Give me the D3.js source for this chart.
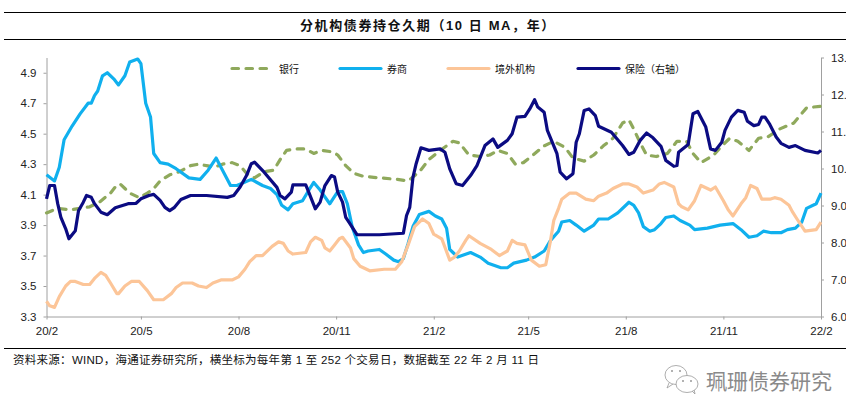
<!DOCTYPE html>
<html>
<head>
<meta charset="utf-8">
<script src="https://cdn.jsdelivr.net/npm/d3@7"></script>
<style>
  html, body { margin: 0; padding: 0; background: #fff; }
  svg { display: block; }
  text { font-family: "Liberation Sans", "Noto Sans CJK SC", sans-serif; fill: #111; }
</style>
</head>
<body>
<svg></svg>
<script>
// Each point is [trading day since 20/2, duration in years]
var bank = [[0,3.98],[7,4.01],[15,4.0],[21,4.01],[27,4.02],[33,4.05],[40,4.11],[43,4.15],[46,4.17],[49,4.14],[52,4.11],[58,4.08],[63,4.11],[67,4.14],[71,4.19],[77,4.23],[83,4.25],[90,4.29],[95,4.30],[100,4.29],[105,4.28],[110,4.30],[116,4.31],[121,4.29],[125,4.24],[130,4.21],[136,4.25],[142,4.26],[146,4.33],[150,4.39],[155,4.40],[162,4.40],[167,4.37],[172,4.39],[179,4.38],[182,4.36],[187,4.29],[192,4.24],[198,4.22],[208,4.21],[219,4.20],[226,4.19],[233,4.25],[239,4.33],[246,4.39],[254,4.45],[258,4.44],[264,4.36],[271,4.35],[277,4.36],[282,4.39],[288,4.37],[293,4.30],[298,4.31],[304,4.36],[311,4.42],[317,4.45],[324,4.41],[329,4.34],[336,4.32],[342,4.36],[348,4.42],[354,4.47],[360,4.57],[364,4.59],[367,4.53],[371,4.44],[375,4.36],[381,4.35],[388,4.37],[394,4.45],[400,4.45],[404,4.37],[409,4.31],[417,4.36],[422,4.42],[427,4.47],[432,4.45],[439,4.39],[445,4.47],[451,4.48],[458,4.53],[467,4.57],[475,4.67],[484,4.68]];

var broker = [[0,4.23],[5,4.19],[8,4.28],[11,4.46],[16,4.55],[21,4.63],[26,4.70],[28,4.70],[30,4.75],[32,4.78],[35,4.88],[38,4.90],[42,4.86],[45,4.82],[49,4.88],[52,4.97],[57,4.99],[59,4.96],[62,4.70],[65,4.61],[67,4.37],[71,4.31],[76,4.30],[81,4.27],[89,4.21],[96,4.20],[101,4.26],[106,4.34],[110,4.26],[115,4.16],[119,4.16],[128,4.20],[135,4.16],[140,4.14],[144,4.10],[147,4.03],[151,4.0],[154,4.04],[160,4.06],[164,4.13],[167,4.18],[171,4.13],[177,4.04],[182,4.12],[185,4.12],[188,4.04],[191,3.89],[195,3.77],[198,3.72],[201,3.73],[208,3.74],[212,3.71],[217,3.67],[220,3.66],[223,3.68],[226,3.78],[229,3.89],[233,3.97],[239,3.99],[243,3.96],[247,3.94],[250,3.88],[252,3.74],[254,3.72],[257,3.69],[265,3.72],[271,3.69],[276,3.65],[284,3.62],[288,3.62],[292,3.65],[300,3.67],[305,3.69],[311,3.73],[315,3.80],[320,3.86],[322,3.92],[327,3.93],[331,3.90],[336,3.86],[342,3.90],[345,3.94],[351,3.94],[357,3.98],[364,4.05],[367,4.03],[370,3.98],[373,3.89],[377,3.86],[380,3.87],[384,3.91],[387,3.95],[392,3.96],[396,3.93],[402,3.90],[405,3.87],[413,3.88],[421,3.90],[429,3.91],[434,3.87],[439,3.82],[444,3.83],[448,3.86],[453,3.85],[459,3.85],[463,3.87],[468,3.88],[472,3.92],[475,4.01],[481,4.04],[484,4.11]];

var foreign = [[0,3.40],[2,3.37],[5,3.36],[8,3.43],[12,3.50],[15,3.53],[18,3.53],[23,3.51],[27,3.51],[30,3.55],[34,3.59],[37,3.57],[40,3.52],[44,3.45],[45,3.45],[49,3.50],[53,3.53],[58,3.53],[63,3.47],[67,3.41],[73,3.41],[78,3.45],[81,3.49],[85,3.52],[91,3.52],[95,3.50],[100,3.49],[104,3.52],[109,3.54],[116,3.54],[120,3.56],[124,3.61],[127,3.66],[131,3.70],[135,3.70],[141,3.76],[145,3.79],[148,3.78],[151,3.73],[154,3.71],[162,3.72],[165,3.79],[168,3.82],[172,3.80],[174,3.75],[177,3.73],[180,3.77],[183,3.81],[185,3.82],[190,3.75],[192,3.68],[196,3.63],[202,3.60],[211,3.61],[218,3.61],[222,3.66],[226,3.77],[230,3.89],[235,3.94],[239,3.91],[242,3.84],[247,3.81],[252,3.67],[255,3.69],[258,3.73],[262,3.80],[264,3.83],[271,3.78],[278,3.74],[283,3.70],[288,3.73],[291,3.80],[294,3.78],[299,3.77],[303,3.67],[308,3.63],[312,3.64],[315,3.80],[317,3.93],[320,4.01],[322,4.07],[327,4.11],[331,4.11],[337,4.07],[342,4.06],[345,4.09],[350,4.11],[354,4.14],[360,4.17],[364,4.17],[369,4.15],[373,4.11],[379,4.13],[383,4.17],[386,4.18],[392,4.15],[395,4.04],[397,4.02],[401,4.0],[405,4.06],[409,4.16],[415,4.13],[418,4.15],[423,4.06],[426,4.0],[429,3.96],[434,4.04],[437,4.08],[440,4.16],[444,4.14],[447,4.07],[452,4.07],[455,4.08],[459,4.07],[464,4.03],[466,3.99],[469,3.94],[474,3.86],[481,3.87],[484,3.92]];

// insurance reads on the right axis
var insurance = [[0,9.18],[2,9.54],[5,9.54],[7,9.05],[9,8.68],[12,8.37],[14,8.10],[18,8.32],[20,8.86],[23,9.09],[25,9.27],[28,9.22],[30,9.05],[34,8.82],[38,8.75],[43,8.94],[51,9.05],[56,9.06],[59,9.18],[64,9.27],[67,9.30],[71,9.14],[74,8.95],[77,8.86],[80,8.95],[84,9.16],[90,9.27],[100,9.27],[113,9.22],[117,9.27],[121,9.5],[125,9.81],[128,10.13],[130,10.17],[136,9.90],[144,9.49],[146,9.27],[149,9.18],[153,9.36],[154,9.56],[162,9.56],[164,9.35],[168,8.91],[171,9.09],[174,9.54],[178,9.81],[180,9.77],[182,9.36],[185,9.09],[187,8.68],[189,8.55],[194,8.21],[208,8.21],[223,8.25],[225,8.73],[227,8.95],[229,9.76],[231,10.13],[234,10.56],[239,10.49],[246,10.53],[249,10.44],[252,9.99],[256,9.59],[260,9.54],[265,9.81],[269,10.08],[274,10.62],[279,10.80],[282,10.57],[288,10.76],[291,10.94],[294,11.39],[299,11.41],[302,11.61],[305,11.86],[307,11.66],[311,11.52],[313,11.03],[319,10.40],[321,9.90],[325,9.72],[329,9.86],[331,10.71],[333,10.94],[336,11.57],[339,11.61],[343,11.43],[345,11.14],[353,10.98],[360,10.62],[364,10.38],[367,10.44],[371,10.76],[375,10.96],[379,10.83],[384,10.60],[387,10.22],[392,10.06],[394,10.08],[395,10.44],[401,10.65],[404,11.48],[407,11.54],[412,11.12],[415,10.53],[418,10.49],[422,10.71],[424,11.03],[428,11.39],[432,11.57],[436,11.52],[438,11.28],[442,11.16],[445,11.19],[447,11.39],[449,11.39],[452,11.19],[456,10.85],[459,10.68],[464,10.57],[468,10.62],[474,10.49],[482,10.42],[484,10.49]];

var tickDays = [0, 59, 120, 181, 242, 301, 362, 423, 484];
var tickLabels = ['20/2', '20/5', '20/8', '20/11', '21/2', '21/5', '21/8', '21/11', '22/2'];
var leftTicks = [3.3, 3.5, 3.7, 3.9, 4.1, 4.3, 4.5, 4.7, 4.9];
var rightTicks = [6, 7, 8, 9, 10, 11, 12, 13];

var seriesNames = ['银行', '券商', '境外机构', '保险（右轴）'];
var seriesColors = ['#8fa95c', '#10b0ee', '#fcc598', '#0b0b82'];

var svg = d3.select('svg').attr('width', 859).attr('height', 418);

var x = d3.scaleLinear().domain([0, 484]).range([46.5, 821]);
var yLeft = d3.scaleLinear().domain([3.3, 5.0]).range([316.5, 57.5]);
var yRight = d3.scaleLinear().domain([6, 13]).range([316.5, 57.5]);

// frame rules and title
[12.5, 39.5, 348.5].forEach(function(y) {
  svg.append('line').attr('x1', 4).attr('x2', 846).attr('y1', y).attr('y2', y)
    .attr('stroke', '#000').attr('stroke-width', 1);
});
svg.append('text').attr('x', 300).attr('y', 30)
  .attr('font-size', 13).attr('font-weight', 'bold').attr('letter-spacing', 1.6)
  .text('分机构债券持仓久期（10 日 MA，年）');

// the right tick labels are cut off by the picture frame in the original
svg.append('clipPath').attr('id', 'frame').append('rect')
  .attr('x', 0).attr('y', 0).attr('width', 846).attr('height', 418);

function styleAxis(g) {
  g.selectAll('path, line').attr('stroke', '#a0a0a0').attr('stroke-width', 1);
  g.selectAll('text').attr('font-size', 11.5)
    .attr('font-family', '"Liberation Sans", sans-serif').style('fill', '#222');
}

svg.append('g')
  .attr('transform', 'translate(46.5,0)')
  .call(d3.axisLeft(yLeft).tickValues(leftTicks).tickSizeInner(3).tickSizeOuter(0).tickPadding(7)
    .tickFormat(d3.format('.1f')))
  .call(styleAxis);

svg.append('g')
  .attr('clip-path', 'url(#frame)')
  .append('g')
  .attr('transform', 'translate(821,0)')
  .call(d3.axisRight(yRight).tickValues(rightTicks).tickSizeInner(3).tickSizeOuter(0).tickPadding(7)
    .tickFormat(d3.format('.1f')))
  .call(styleAxis);

svg.append('g')
  .attr('transform', 'translate(0,316.5)')
  .call(d3.axisBottom(x).tickValues(tickDays).tickSizeInner(3).tickSizeOuter(0).tickPadding(7)
    .tickFormat(function(d, i) { return tickLabels[i]; }))
  .call(styleAxis);

// series
function drawLine(points, yScale, color, dash) {
  var line = d3.line()
    .x(function(d) { return x(d[0]); })
    .y(function(d) { return yScale(d[1]); });
  var path = svg.append('path').datum(points)
    .attr('d', line)
    .attr('fill', 'none')
    .attr('stroke', color)
    .attr('stroke-width', 3.2)
    .attr('stroke-linejoin', 'round')
    .attr('stroke-linecap', dash ? 'round' : 'butt');
  if (dash) path.attr('stroke-dasharray', dash);
}
drawLine(bank, yLeft, seriesColors[0], '6.5,7.5');
drawLine(broker, yLeft, seriesColors[1]);
drawLine(foreign, yLeft, seriesColors[2]);
drawLine(insurance, yRight, seriesColors[3]);

// legend
var legendX = [232, 340, 448, 578];
seriesNames.forEach(function(name, i) {
  var g = svg.append('g').attr('transform', 'translate(' + legendX[i] + ',68.5)');
  var ln = g.append('line').attr('x1', 0).attr('x2', 41)
    .attr('stroke', seriesColors[i]).attr('stroke-width', 3.2).attr('stroke-linecap', 'round');
  if (i === 0) ln.attr('stroke-dasharray', '6.5,7.5');
  g.append('text').attr('x', 47).attr('y', 4).attr('font-size', 10).text(name);
});

// source note
svg.append('text').attr('x', 13).attr('y', 364).attr('font-size', 11.5).attr('letter-spacing', 0.28)
  .text('资料来源：WIND，海通证券研究所，横坐标为每年第 1 至 252 个交易日，数据截至 22 年 2 月 11 日');

// watermark: chat bubbles and account name
var mark = svg.append('g').attr('fill', '#fff').attr('stroke', '#999').attr('stroke-width', 0.8);
mark.append('path').attr('d', 'M669,383 L667,388 L673,384');
mark.append('ellipse').attr('cx', 676).attr('cy', 375).attr('rx', 11).attr('ry', 9.5);
mark.append('path').attr('d', 'M692,391 L695,394 L694,389');
mark.append('ellipse').attr('cx', 687).attr('cy', 384).attr('rx', 11).attr('ry', 8.5);
[[672, 371], [680, 371], [683, 381], [691, 381]].forEach(function(p) {
  svg.append('circle').attr('cx', p[0]).attr('cy', p[1]).attr('r', 1).attr('fill', '#999');
});
svg.append('text').attr('x', 706).attr('y', 389).attr('font-size', 21)
  .attr('font-family', '"Noto Sans CJK SC", sans-serif')
  .style('fill', '#8a8a8a')
  .text('珮珊债券研究');
</script>
</body>
</html>
